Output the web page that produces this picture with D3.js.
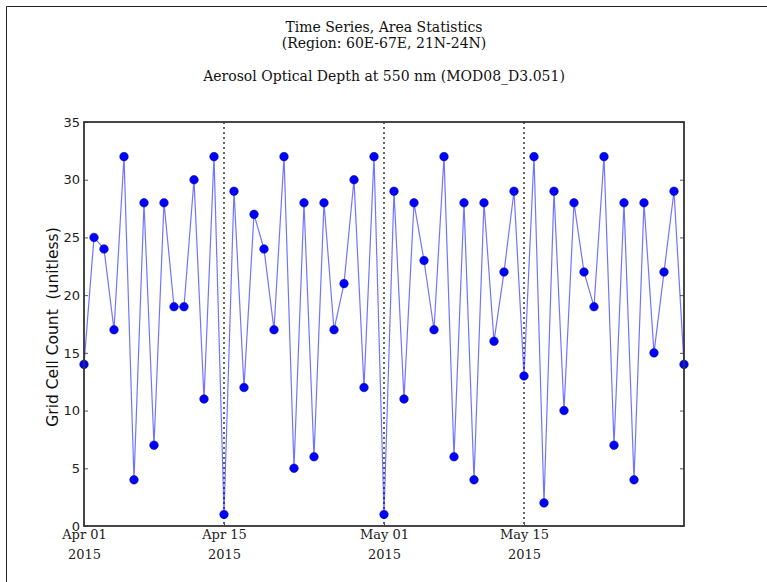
<!DOCTYPE html>
<html>
<head>
<meta charset="utf-8">
<script src="https://cdn.jsdelivr.net/npm/d3@7"></script>
<style>
  body { margin: 0; background: #fff; }
  svg { display: block; }
</style>
</head>
<body>
<svg id="chart" width="767" height="582"></svg>
<script>
'use strict'

// daily grid cell counts, Apr 01 .. May 31 2015
const startDate = "2015-04-01"
const counts = [
  14, 25, 24, 17, 32, 4, 28, 7, 28, 19, 19, 30, 11, 32,
  1, 29, 12, 27, 24, 17, 32, 5, 28, 6, 28, 17, 21, 30, 12, 32,
  1, 29, 11, 28, 23, 17, 32, 6, 28, 4, 28, 16, 22, 29,
  13, 32, 2, 29, 10, 28, 22, 19, 32, 7, 28, 4, 28, 15, 22, 29, 14
]
const xTickDates = ["2015-04-01", "2015-04-15", "2015-05-01", "2015-05-15"]
const yTicks = [0, 5, 10, 15, 20, 25, 30, 35]
const titleLines = ["Time Series, Area Statistics", "(Region: 60E-67E, 21N-24N)"]
const subTitle = "Aerosol Optical Depth at 550 nm (MOD08_D3.051)"
const yLabel = "Grid Cell Count  (unitless)"

const parseDay = d3.utcParse("%Y-%m-%d")
const t0 = parseDay(startDate)
const data = counts.map((v, i) => ({date: d3.utcDay.offset(t0, i), value: v}))

const margin = {top: 122, right: 83, bottom: 56, left: 84}
const width = 767, height = 582
const iw = width - margin.left - margin.right
const ih = height - margin.top - margin.bottom

const serif = "'DejaVu Serif', serif"
const sans = "'DejaVu Sans', sans-serif"

const svg = d3.select("#chart")

// figure edge lines (top, left)
svg.append("path")
  .attr("d", `M6.5,${height} V6.5 H${width}`)
  .attr("fill", "none").attr("stroke", "#222").attr("stroke-width", 1)

const x = d3.scaleUtc()
  .domain(d3.extent(data, d => d.date))
  .range([0, iw])
const y = d3.scaleLinear().domain([0, 35]).range([ih, 0])

const g = svg.append("g").attr("transform", `translate(${margin.left},${margin.top})`)

// dotted markers at the date ticks
const tickDates = xTickDates.map(parseDay)
g.append("g").selectAll("line")
  .data(tickDates.slice(1))
  .join("line")
  .attr("x1", d => x(d)).attr("x2", d => x(d))
  .attr("y1", 0).attr("y2", ih)
  .attr("stroke", "#000").attr("stroke-width", 1.2)
  .attr("stroke-dasharray", "2,3")

// inward ticks, left and right
const tickLen = 4
const yAxisL = d3.axisLeft(y).tickValues(yTicks).tickSize(-tickLen).tickPadding(4)
const yAxisR = d3.axisRight(y).tickValues(yTicks).tickSize(-tickLen).tickFormat("")
const gl = g.append("g").call(yAxisL)
gl.select(".domain").remove()
gl.selectAll("line").attr("stroke", "#555")
gl.selectAll("text").attr("font-family", sans).attr("font-size", 13).attr("fill", "#222")
const gr = g.append("g").attr("transform", `translate(${iw},0)`).call(yAxisR)
gr.select(".domain").remove()
gr.selectAll("line").attr("stroke", "#555")

const xAxis = d3.axisBottom(x).tickValues(tickDates).tickSize(-tickLen)
  .tickFormat(d3.utcFormat("%b %d"))
  .tickPadding(4)
const gx = g.append("g").attr("transform", `translate(0,${ih})`).call(xAxis)
gx.select(".domain").remove()
gx.selectAll("line").attr("stroke", "#555")
gx.selectAll("text").attr("font-family", serif).attr("font-size", 13).attr("fill", "#222")
gx.selectAll(".tick").append("text")
  .attr("y", 33).attr("text-anchor", "middle")
  .attr("font-family", serif).attr("font-size", 13).attr("fill", "#222")
  .text(d => d3.utcFormat("%Y")(d))

// series
const line = d3.line().x(d => x(d.date)).y(d => y(d.value))
g.append("path")
  .datum(data)
  .attr("d", line)
  .attr("fill", "none")
  .attr("stroke", "#0000ff")
  .attr("stroke-opacity", 0.55)
  .attr("stroke-width", 1.2)

g.append("g").selectAll("circle")
  .data(data)
  .join("circle")
  .attr("cx", d => x(d.date))
  .attr("cy", d => y(d.value))
  .attr("r", 4.3)
  .attr("fill", "#0000ff")
  .attr("stroke", "#000080")
  .attr("stroke-width", 0.5)

// frame
g.append("rect")
  .attr("width", iw).attr("height", ih)
  .attr("fill", "none").attr("stroke", "#333").attr("stroke-width", 1.8)

// titles
svg.append("g").selectAll("text")
  .data(titleLines)
  .join("text")
  .attr("x", 384).attr("y", (d, i) => 32 + i * 16)
  .attr("text-anchor", "middle")
  .attr("font-family", serif).attr("font-size", 14).attr("fill", "#111")
  .text(d => d)

svg.append("text")
  .attr("x", 384).attr("y", 81)
  .attr("text-anchor", "middle")
  .attr("font-family", serif).attr("font-size", 14).attr("fill", "#111")
  .text(subTitle)

svg.append("text")
  .attr("transform", `translate(58,${margin.top + ih / 2 + 3}) rotate(-90)`)
  .attr("text-anchor", "middle")
  .attr("font-family", sans).attr("font-size", 15.5).attr("fill", "#111")
  .style("white-space", "pre")
  .text(yLabel)
</script>
</body>
</html>
